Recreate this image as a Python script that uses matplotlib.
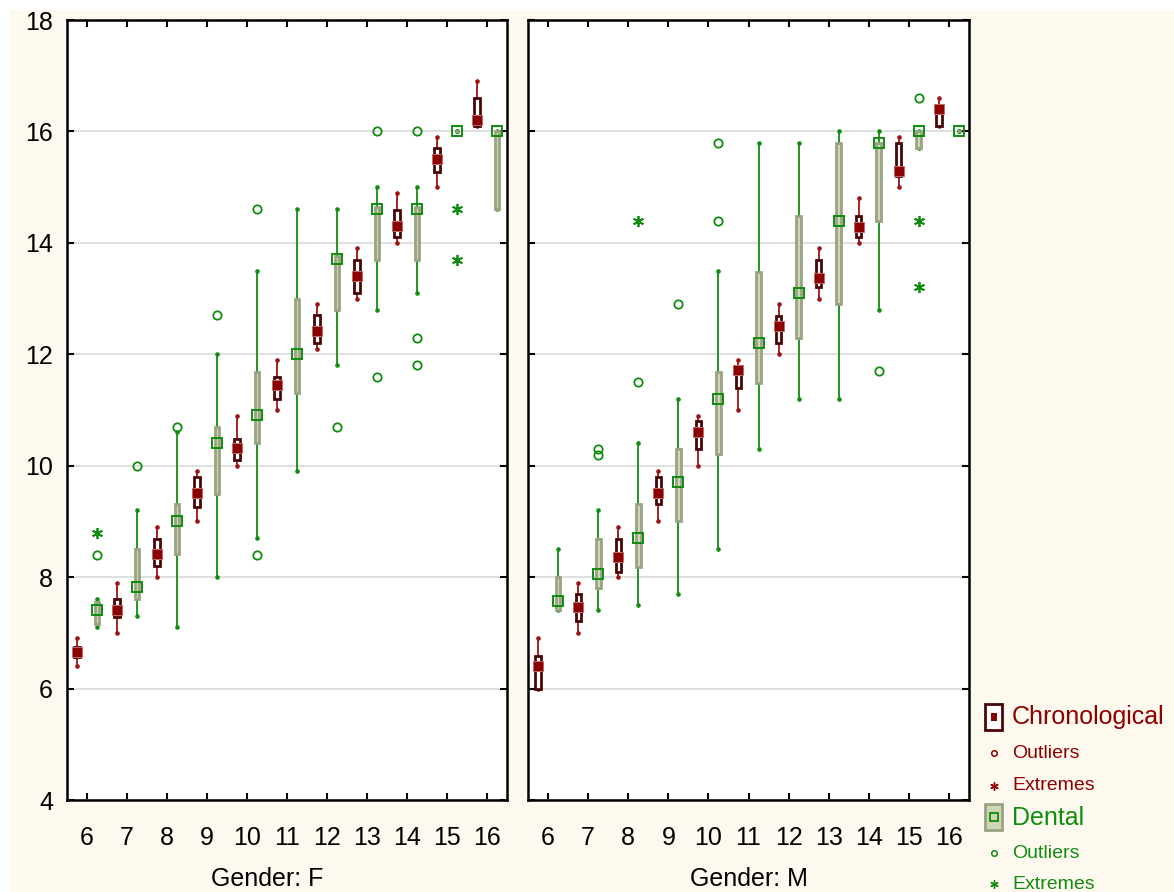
import numpy as np
import matplotlib
matplotlib.use('Agg')
import matplotlib.pyplot as plt
from matplotlib.patches import Rectangle

plt.rcParams['font.family'] = ['Liberation Sans', 'DejaVu Sans']

ages = [6, 7, 8, 9, 10, 11, 12, 13, 14, 15, 16]

# Gender F - chronological age
f_chr_med = [6.65, 7.41, 8.41, 9.51, 10.32, 11.45, 12.42, 13.40, 14.30, 15.50, 16.20]
f_chr_q1 = [6.56, 7.28, 8.20, 9.26, 10.10, 11.20, 12.20, 13.10, 14.10, 15.28, 16.10]
f_chr_q3 = [6.74, 7.61, 8.68, 9.80, 10.48, 11.60, 12.70, 13.69, 14.59, 15.70, 16.60]
f_chr_lo = [6.40, 7.00, 8.00, 9.00, 10.00, 11.00, 12.10, 13.00, 14.00, 15.00, 16.10]
f_chr_hi = [6.90, 7.90, 8.90, 9.90, 10.90, 11.90, 12.90, 13.90, 14.90, 15.90, 16.90]

# Gender F - dental age
f_den_med = [7.41, 7.82, 9.00, 10.41, 10.91, 12.00, 13.71, 14.60, 14.60, 16.00, 16.00]
f_den_q1 = [7.16, 7.60, 8.41, 9.50, 10.40, 11.30, 12.80, 13.70, 13.70, 16.00, 14.60]
f_den_q3 = [7.55, 8.50, 9.31, 10.69, 11.68, 13.00, 13.76, 14.64, 14.64, 16.00, 16.00]
f_den_lo = [7.10, 7.30, 7.10, 8.00, 8.70, 9.90, 11.80, 12.80, 13.10, 16.00, 14.60]
f_den_hi = [7.60, 9.20, 10.60, 12.00, 13.50, 14.60, 14.60, 15.00, 15.00, 16.00, 16.00]
f_den_out_age = [6, 7, 8, 9, 10, 10, 12, 13, 13, 14, 14, 14]
f_den_out_val = [8.4, 10.0, 10.7, 12.7, 14.6, 8.4, 10.7, 16.0, 11.6, 16.0, 12.3, 11.8]
f_den_ext_age = [6, 15, 15]
f_den_ext_val = [8.8, 14.6, 13.7]

# Gender M - chronological age
m_chr_med = [6.40, 7.46, 8.36, 9.51, 10.60, 11.72, 12.51, 13.37, 14.29, 15.29, 16.40]
m_chr_q1 = [6.00, 7.21, 8.10, 9.31, 10.30, 11.39, 12.20, 13.20, 14.10, 15.20, 16.10]
m_chr_q3 = [6.58, 7.70, 8.68, 9.80, 10.80, 11.79, 12.69, 13.69, 14.48, 15.79, 16.47]
m_chr_lo = [6.00, 7.00, 8.00, 9.00, 10.00, 11.00, 12.00, 13.00, 14.00, 15.00, 16.10]
m_chr_hi = [6.90, 7.90, 8.90, 9.90, 10.90, 11.90, 12.90, 13.90, 14.80, 15.90, 16.60]

# Gender M - dental age
m_den_med = [7.57, 8.06, 8.70, 9.70, 11.20, 12.20, 13.10, 14.40, 15.80, 16.00, 16.00]
m_den_q1 = [7.41, 7.80, 8.19, 9.00, 10.21, 11.48, 12.30, 12.90, 14.40, 15.70, 16.00]
m_den_q3 = [8.00, 8.68, 9.31, 10.30, 11.68, 13.48, 14.48, 15.80, 15.80, 16.00, 16.00]
m_den_lo = [7.41, 7.41, 7.50, 7.70, 8.50, 10.30, 11.20, 11.20, 12.80, 15.70, 16.00]
m_den_hi = [8.50, 9.20, 10.40, 11.20, 13.50, 15.80, 15.80, 16.00, 16.00, 16.00, 16.00]
m_den_out_age = [7, 7, 8, 9, 10, 10, 14, 15]
m_den_out_val = [10.3, 10.2, 11.5, 12.9, 14.4, 15.8, 11.7, 16.6]
m_den_ext_age = [8, 15, 15]
m_den_ext_val = [14.4, 14.4, 13.2]

CHR_EDGE = '#4a0606'
CHR_RED = '#8b0000'
CHR_WHISK = '#9a1515'
DEN_FACE = '#cfd7b4'
DEN_EDGE = '#98a382'
DEN_GREEN = '#108c10'
CREAM = '#fef9ee'
ASTER = (6, 2, 0)


def draw_boxes(ax, x, med, q1, q3, lo, hi, chrono):
    x = np.asarray(x, float)
    q1 = np.asarray(q1)
    q3 = np.asarray(q3)
    wc = CHR_WHISK if chrono else DEN_GREEN
    ax.vlines(x, lo, q1, color=wc, lw=1.3, zorder=2)
    ax.vlines(x, q3, hi, color=wc, lw=1.3, zorder=2)
    ax.plot(x, lo, ls='none', marker='o', ms=2.3, color=wc, zorder=2)
    ax.plot(x, hi, ls='none', marker='o', ms=2.3, color=wc, zorder=2)
    if chrono:
        ax.bar(x, q3 - q1, bottom=q1, width=0.13, color='white',
               edgecolor=CHR_EDGE, lw=2, zorder=3)
        ax.plot(x, med, ls='none', marker='s', ms=6.5, mfc=CHR_RED,
                mec='#c06a6a', mew=0.7, zorder=4)
    else:
        ax.bar(x, q3 - q1, bottom=q1, width=0.12, color=DEN_FACE,
               edgecolor=DEN_EDGE, lw=2, zorder=3)
        ax.plot(x, med, ls='none', marker='s', ms=6.5, mfc='none',
                mec=DEN_GREEN, mew=1.4, zorder=4)


fig = plt.figure(figsize=(11.74, 8.92), dpi=100, facecolor='white')
fig.patches.append(Rectangle((10 / 1174, 0), 1, 1 - 10 / 892, transform=fig.transFigure,
                             facecolor=CREAM, edgecolor='none', zorder=-10))

ax1 = fig.add_axes([67 / 1174, 92 / 892, 440 / 1174, 780 / 892])
ax2 = fig.add_axes([528 / 1174, 92 / 892, 441 / 1174, 780 / 892])

panels = [
    (ax1, (f_chr_med, f_chr_q1, f_chr_q3, f_chr_lo, f_chr_hi),
     (f_den_med, f_den_q1, f_den_q3, f_den_lo, f_den_hi),
     f_den_out_age, f_den_out_val, f_den_ext_age, f_den_ext_val),
    (ax2, (m_chr_med, m_chr_q1, m_chr_q3, m_chr_lo, m_chr_hi),
     (m_den_med, m_den_q1, m_den_q3, m_den_lo, m_den_hi),
     m_den_out_age, m_den_out_val, m_den_ext_age, m_den_ext_val),
]

for ax, chr_stats, den_stats, oa, ov, ea, ev in panels:
    ax.set_facecolor('white')
    draw_boxes(ax, np.array(ages) - 0.25, *chr_stats, chrono=True)
    draw_boxes(ax, np.array(ages) + 0.25, *den_stats, chrono=False)
    ax.plot(np.array(oa) + 0.25, ov, ls='none', marker='o', ms=6, mfc='none',
            mec=DEN_GREEN, mew=1.3, zorder=4)
    ax.plot(np.array(ea) + 0.25, ev, ls='none', marker=ASTER, ms=8,
            color=DEN_GREEN, mew=1.3, zorder=4)

    ax.set_xlim(5.5, 16.5)
    ax.set_ylim(4, 18)
    ax.set_xticks(ages)
    ax.set_yticks(range(4, 19, 2))
    ax.grid(axis='y', color='#dcdcdc', lw=1.3)
    ax.set_axisbelow(True)
    ax.tick_params(direction='in', top=True, right=True, length=5, width=1.5,
                   labelsize=18, colors='black')
    ax.tick_params(axis='x', pad=19)
    ax.tick_params(axis='y', pad=10)
    for s in ax.spines.values():
        s.set_linewidth(1.8)

ax2.tick_params(labelleft=False)

fig.text(267 / 1174, 1 - 891 / 892, 'Gender: F', ha='center', va='bottom', fontsize=18)
fig.text(749 / 1174, 1 - 891 / 892, 'Gender: M', ha='center', va='bottom', fontsize=18)

# legend, laid out in pixel units of the figure
lg = fig.add_axes([975 / 1174, 0, 199 / 1174, 200 / 892])
lg.set_xlim(975, 1174)
lg.set_ylim(892, 692)
lg.axis('off')
lg.add_patch(Rectangle((985, 704), 17, 26, facecolor='white', edgecolor=CHR_EDGE, lw=2))
lg.add_patch(Rectangle((990.5, 713), 6, 8, facecolor=CHR_RED, edgecolor='none'))
lg.text(1012, 717, 'Chronological', va='center', fontsize=18, color=CHR_RED)
lg.plot([993.5], [753], marker='o', ms=4, mfc='none', mec=CHR_RED, mew=1.1)
lg.text(1012, 753, 'Outliers', va='center', fontsize=14, color=CHR_RED)
lg.plot([993.5], [786], marker=ASTER, ms=6, color=CHR_RED, mew=1)
lg.text(1012, 786, 'Extremes', va='center', fontsize=14, color=CHR_RED)
lg.add_patch(Rectangle((985, 804), 17, 26, facecolor=DEN_FACE, edgecolor=DEN_EDGE, lw=2))
lg.plot([993.5], [817], marker='s', ms=6, mfc='none', mec=DEN_GREEN, mew=1.3)
lg.text(1012, 818, 'Dental', va='center', fontsize=18, color=DEN_GREEN)
lg.plot([993.5], [853], marker='o', ms=4, mfc='none', mec=DEN_GREEN, mew=1.1)
lg.text(1012, 853, 'Outliers', va='center', fontsize=14, color=DEN_GREEN)
lg.plot([993.5], [884], marker=ASTER, ms=6, color=DEN_GREEN, mew=1)
lg.text(1012, 889, 'Extremes', va='baseline', fontsize=14, color=DEN_GREEN)

fig.savefig('out.png', dpi=100, facecolor=fig.get_facecolor())
